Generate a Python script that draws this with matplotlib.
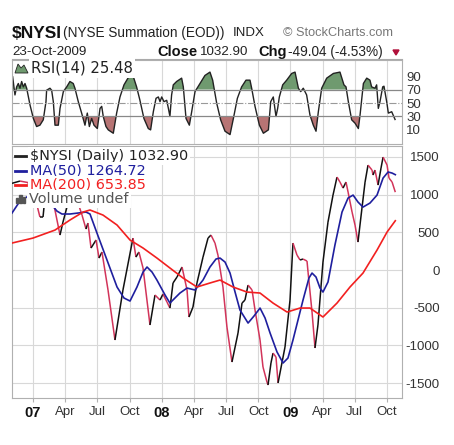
import matplotlib
matplotlib.use('Agg')
import matplotlib.pyplot as plt
from matplotlib.collections import LineCollection
from matplotlib.patches import Polygon, Rectangle
from matplotlib.lines import Line2D
import numpy as np

# time axis in decimal years
nysi_t = [2006.837, 2006.899, 2006.961, 2007.031, 2007.054, 2007.078, 2007.101, 2007.132, 2007.163, 2007.210,
          2007.233, 2007.264, 2007.295, 2007.326, 2007.350, 2007.381, 2007.412, 2007.427, 2007.451, 2007.490,
          2007.513, 2007.536, 2007.583, 2007.637, 2007.699, 2007.777, 2007.800, 2007.823, 2007.855, 2007.909,
          2007.948, 2007.987, 2008.010, 2008.041, 2008.064, 2008.088, 2008.119, 2008.158, 2008.197, 2008.212,
          2008.243, 2008.274, 2008.321, 2008.360, 2008.383, 2008.414, 2008.437, 2008.476, 2008.507, 2008.546,
          2008.593, 2008.624, 2008.647, 2008.671, 2008.702, 2008.725, 2008.764, 2008.787, 2008.818, 2008.826,
          2008.849, 2008.865, 2008.888, 2008.904, 2008.958, 2008.997, 2009.020, 2009.051, 2009.075, 2009.098,
          2009.129, 2009.137, 2009.168, 2009.191, 2009.214, 2009.253, 2009.292, 2009.331, 2009.362, 2009.385,
          2009.409, 2009.432, 2009.448, 2009.479, 2009.502, 2009.525, 2009.556, 2009.580, 2009.603, 2009.634,
          2009.642, 2009.657, 2009.681, 2009.704, 2009.720, 2009.751, 2009.766, 2009.790, 2009.815]
nysi_v = [1150, 1180, 1160, 862, 703, 703, 1100, 1130, 862, 464,
          636, 835, 1100, 1130, 888, 729, 544, 623, 292, 398,
          159, 239, -265, -928, -265, 424, 172, 239, 27, -729,
          -331, -398, -318, -424, -504, -172, -93, 40, -265, -623,
          -491, -172, 172, 424, 464, 358, 199, -225, -756, -1220,
          -835, -438, -398, -199, -265, -530, -928, -1286, -1485, -1525,
          -1233, -1101, -1154, -1498, -1021, -398, 358, 199, 133, 146,
          119, -27, -557, -1034, -729, 106, 636, 994, 1233, 1167,
          1087, 1167, 1034, 769, 597, 371, 822, 1167, 1392, 1326,
          1260, 1326, 1127, 1353, 1498, 1392, 1220, 1167, 1032.9]

ma50_t = [2006.837, 2006.899, 2006.977, 2007.054, 2007.109, 2007.148, 2007.186, 2007.225, 2007.287, 2007.350,
          2007.412, 2007.443, 2007.497, 2007.575, 2007.653, 2007.707, 2007.754, 2007.808, 2007.855, 2007.886,
          2007.925, 2007.963, 2008.026, 2008.064, 2008.103, 2008.142, 2008.197, 2008.259, 2008.321, 2008.375,
          2008.422, 2008.453, 2008.492, 2008.531, 2008.570, 2008.608, 2008.671, 2008.717, 2008.764, 2008.803,
          2008.842, 2008.896, 2008.943, 2008.981, 2009.020, 2009.098, 2009.144, 2009.168, 2009.199, 2009.230,
          2009.253, 2009.292, 2009.346, 2009.401, 2009.448, 2009.487, 2009.525, 2009.564, 2009.618, 2009.673,
          2009.720, 2009.759, 2009.790, 2009.815]
ma50_v = [756, 915, 994, 981, 941, 862, 782, 743, 743, 756,
          769, 743, 491, 133, -225, -371, -411, -225, -27, 40,
          -27, -133, -331, -438, -371, -305, -239, -265, -133, 40,
          146, 159, 106, -40, -292, -530, -703, -610, -504, -636,
          -835, -1087, -1233, -1167, -928, -398, -106, -40, -93, -239,
          -292, -159, 332, 769, 955, 994, 902, 835, 888, 994,
          1220, 1300, 1286, 1264.72]

ma200_t = [2006.837, 2007.000, 2007.171, 2007.287, 2007.389, 2007.443, 2007.544, 2007.653, 2007.754, 2007.855,
           2007.963, 2008.064, 2008.166, 2008.274, 2008.375, 2008.453, 2008.554, 2008.663, 2008.764, 2008.865,
           2008.974, 2009.075, 2009.152, 2009.253, 2009.362, 2009.463, 2009.564, 2009.673, 2009.751, 2009.815]
ma200_v = [358, 424, 530, 663, 769, 796, 729, 597, 398, 292,
           159, 27, -106, -225, -172, -133, -225, -292, -305, -438,
           -557, -504, -504, -623, -438, -225, -40, 265, 504, 653.85]

rsi_t = [2006.842, 2006.860, 2006.873, 2006.886, 2006.899, 2006.912, 2006.925, 2006.938, 2006.951, 2006.977,
         2007.003, 2007.028, 2007.054, 2007.080, 2007.101, 2007.106, 2007.132, 2007.145, 2007.158, 2007.171,
         2007.197, 2007.210, 2007.236, 2007.262, 2007.287, 2007.313, 2007.326, 2007.352, 2007.378, 2007.404,
         2007.422, 2007.438, 2007.456, 2007.474, 2007.500, 2007.521, 2007.534, 2007.546, 2007.567, 2007.585,
         2007.624, 2007.650, 2007.676, 2007.707, 2007.741, 2007.780, 2007.805, 2007.831, 2007.862, 2007.896,
         2007.914, 2007.935, 2007.956, 2007.974, 2007.987, 2008.000, 2008.018, 2008.039, 2008.052, 2008.064,
         2008.077, 2008.090, 2008.116, 2008.155, 2008.168, 2008.189, 2008.215, 2008.233, 2008.259, 2008.298,
         2008.336, 2008.375, 2008.396, 2008.427, 2008.458, 2008.492, 2008.531, 2008.557, 2008.588, 2008.621,
         2008.655, 2008.686, 2008.699, 2008.725, 2008.759, 2008.790, 2008.829, 2008.847, 2008.867, 2008.888,
         2008.901, 2008.914, 2008.940, 2008.971, 2009.010, 2009.036, 2009.062, 2009.080, 2009.100, 2009.126,
         2009.152, 2009.178, 2009.199, 2009.217, 2009.243, 2009.282, 2009.334, 2009.385, 2009.416, 2009.432,
         2009.450, 2009.476, 2009.502, 2009.528, 2009.541, 2009.567, 2009.593, 2009.618, 2009.631, 2009.657,
         2009.670, 2009.683, 2009.696, 2009.717, 2009.727, 2009.748, 2009.761, 2009.787, 2009.813]
rsi_v = [89, 62, 74, 79, 72, 82, 74, 79, 72, 47,
         27, 15, 17, 25, 52, 69, 72, 69, 52, 17,
         17, 42, 67, 74, 82, 79, 72, 52, 35, 17,
         35, 15, 27, 17, 12, 42, 45, 30, 15, 10,
         5, 35, 59, 77, 88, 89, 74, 54, 27, 12,
         10, 37, 57, 59, 52, 59, 52, 54, 42, 30,
         62, 77, 82, 87, 74, 27, 17, 37, 67, 79,
         91, 96, 84, 50, 25, 8, 3, 27, 57, 74,
         84, 84, 72, 45, 17, 5, 10, 52, 59, 30,
         42, 59, 77, 84, 94, 96, 72, 67, 72, 62,
         32, 17, 8, 37, 72, 87, 94, 96, 77, 74,
         52, 25, 20, 12, 32, 79, 87, 84, 74, 72,
         77, 42, 52, 74, 75, 52, 35, 37, 25.48]

x_ticks = [2007.0, 2007.25, 2007.5, 2007.75, 2008.0, 2008.25, 2008.5, 2008.75,
           2009.0, 2009.25, 2009.5, 2009.75]
x_labels = ['07', 'Apr', 'Jul', 'Oct', '08', 'Apr', 'Jul', 'Oct', '09', 'Apr', 'Jul', 'Oct']
y_ticks = [-1500, -1000, -500, 0, 500, 1000, 1500]
rsi_ticks = [10, 30, 50, 70, 90]

W, H = 454, 445
fig = plt.figure(figsize=(W / 100, H / 100), dpi=100)
fig.patch.set_facecolor('white')


def fx(px):
    return px / W


def fy(py):
    return 1 - py / H


FONT = 'Liberation Sans'
grid_c = '#d8d8d8'
frame_c = '#b0b0b0'
xlim = (2006.837, 2009.867)

ax_rsi = fig.add_axes([fx(12), fy(144), fx(402) - fx(12), fy(60) - fy(144)])
ax = fig.add_axes([fx(12), fy(398), fx(402) - fx(12), fy(146) - fy(398)])

# ---- RSI panel
rt = np.array(rsi_t)
rv = np.array(rsi_v)
ax_rsi.fill_between(rt, rv, 70, where=rv > 70, interpolate=True, color='#6f9a6f', lw=0)
ax_rsi.fill_between(rt, rv, 30, where=rv < 30, interpolate=True, color='#b77474', lw=0)
ax_rsi.plot(rt, rv, color='#222222', lw=1.0)
ax_rsi.axhline(70, color='#888888', lw=0.9)
ax_rsi.axhline(30, color='#888888', lw=0.9)
ax_rsi.axhline(50, color='#999999', lw=0.8, ls='-.')
for t in x_ticks:
    ax_rsi.axvline(t, color=grid_c, lw=0.8, zorder=0)
ax_rsi.set_xlim(*xlim)
ax_rsi.set_ylim(-11, 114)
ax_rsi.yaxis.tick_right()
ax_rsi.set_yticks(rsi_ticks)
ax_rsi.set_yticklabels([str(v) for v in rsi_ticks], fontsize=9.5, family=FONT, color='#333333')
ax_rsi.tick_params(axis='y', length=0, pad=3)
ax_rsi.set_xticks([])
for s in ax_rsi.spines.values():
    s.set_color(frame_c)
    s.set_linewidth(0.8)

# ---- main panel
for t in x_ticks:
    ax.axvline(t, color=grid_c, lw=0.8, zorder=0)
for v in y_ticks:
    ax.axhline(v, color=grid_c, lw=0.8, zorder=0)

# NYSI line: black on rising segments, red on falling ones
pts = np.column_stack([nysi_t, nysi_v])
segs = np.stack([pts[:-1], pts[1:]], axis=1)
cols = ['#111111' if b >= a else '#d2345a' for a, b in zip(nysi_v[:-1], nysi_v[1:])]
ax.add_collection(LineCollection(segs, colors=cols, linewidths=1.1, zorder=3))
ax.plot(ma50_t, ma50_v, color='#1f1f9e', lw=1.2, zorder=4)
ax.plot(ma200_t, ma200_v, color='#f22020', lw=1.2, zorder=4)

ax.set_xlim(*xlim)
ax.set_ylim(-1697, 1645)
ax.yaxis.tick_right()
ax.set_yticks(y_ticks)
ax.set_yticklabels([str(v) for v in y_ticks], fontsize=9.5, family=FONT, color='#333333', ha='right')
ax.tick_params(axis='y', length=0, pad=27)
ax.set_xticks(x_ticks)
ax.set_xticklabels(x_labels, fontsize=9.5, family=FONT, color='#333333')
for lbl in ax.get_xticklabels():
    if lbl.get_text() in ('07', '08', '09'):
        lbl.set_fontweight('bold')
        lbl.set_fontsize(10.5)
        lbl.set_color('#111111')
ax.tick_params(axis='x', length=3, pad=3, color=frame_c)
for s in ax.spines.values():
    s.set_color(frame_c)
    s.set_linewidth(0.8)

# ---- main legend
leg_font = 'DejaVu Sans'
box = dict(facecolor='white', edgecolor='none', pad=1.5)
leg_rows = [('$NYSI (Daily) 1032.90', '#222222', 156),
            ('MA(50) 1264.72', '#1f1f9e', 171),
            ('MA(200) 653.85', '#f22020', 185)]
for txt, c, py in leg_rows:
    fig.text(fx(30), fy(py), txt, fontsize=10.4, family=leg_font, color=c, va='center', bbox=box, zorder=5)
    fig.add_artist(Line2D([fx(15), fx(26)], [fy(py), fy(py)], color=c, lw=2, zorder=6))
fig.text(fx(29), fy(199), 'Volume undef', fontsize=10.4, family=leg_font, color='#555555', va='center',
         bbox=box, zorder=5)
for i, hgt in enumerate([5, 8, 6]):
    fig.add_artist(Rectangle((fx(16 + i * 3.3), fy(203)), fx(2.3), hgt / H, color='#555555', zorder=6))

# ---- RSI legend
fig.add_artist(Polygon([[fx(15), fy(73)], [fx(18), fy(64)], [fx(21), fy(68)], [fx(24), fy(65)],
                        [fx(28), fy(73)]], closed=True, facecolor='#6f9a6f', edgecolor='#222222',
                       lw=0.6, zorder=6))
fig.text(fx(31), fy(68), 'RSI(14) 25.48', fontsize=10.7, family=leg_font, color='#222222', va='center',
         bbox=box, zorder=5)

# ---- header
fig.text(fx(12), fy(33), '$NYSI', fontsize=12.5, fontweight='bold', family=FONT, color='#111111', va='center')
fig.text(fx(63), fy(33), '(NYSE Summation (EOD))', fontsize=9.8, family=FONT, color='#222222', va='center')
fig.text(fx(233), fy(33), 'INDX', fontsize=9.5, family=FONT, color='#222222', va='center')
fig.text(fx(283), fy(33), '© StockCharts.com', fontsize=9.2, family=FONT, color='#777777', va='center')
fig.text(fx(12), fy(52), '23-Oct-2009', fontsize=9.6, family=FONT, color='#222222', va='center')
fig.text(fx(157), fy(52), 'Close', fontsize=10.5, fontweight='bold', family=FONT, color='#111111', va='center')
fig.text(fx(200), fy(52), '1032.90', fontsize=9.6, family=FONT, color='#222222', va='center')
fig.text(fx(258), fy(52), 'Chg', fontsize=10.5, fontweight='bold', family=FONT, color='#111111', va='center')
fig.text(fx(288), fy(52), '-49.04 (-4.53%)', fontsize=9.8, family=FONT, color='#222222', va='center')
fig.add_artist(Polygon([[fx(393), fy(50)], [fx(399), fy(50)], [fx(396), fy(55)]], closed=True,
                       color='#b0103a', zorder=6))
fig.add_artist(Line2D([fx(12), fx(402)], [fy(59), fy(59)], color='#aaaaaa', lw=0.8))

fig.savefig('out.png', dpi=100)
